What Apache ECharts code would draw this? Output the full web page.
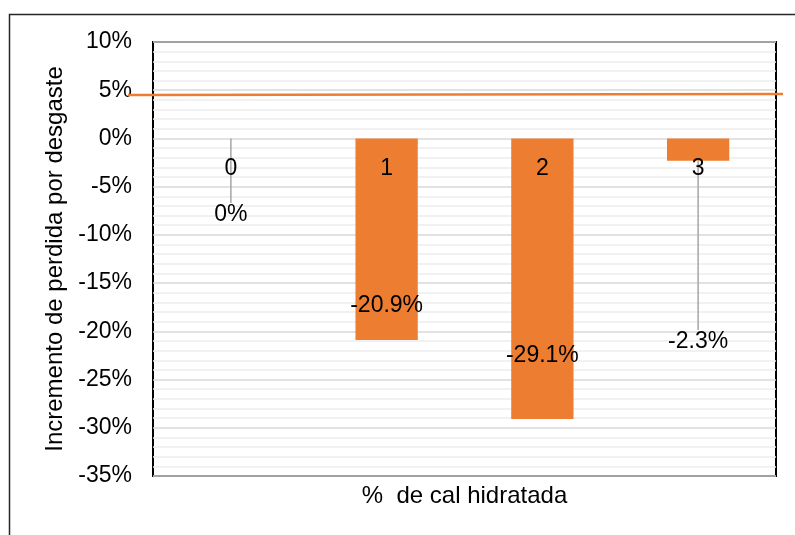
<!DOCTYPE html>
<html>
<head>
<meta charset="utf-8">
<script src="https://cdn.jsdelivr.net/npm/echarts@6/dist/echarts.min.js"></script>
<style>
  html, body { margin: 0; padding: 0; background: #fff; }
  #chart { width: 795px; height: 535px; }
</style>
</head>
<body>
<div id="chart"></div>
<script>
// data
var categories = ['0', '1', '2', '3'];
var values = [0, -20.9, -29.1, -2.3];          // % change
var refLine = [4.5, 4.6];                       // the orange reference line, left -> right
var yTicks = { min: -35, max: 10, step: 5 };

// label nudges (px) so the value labels sit where the original has them
var labelShift = [76, 66, 77, 192];
var showGuide = [true, false, false, true];

var font = 'Liberation Sans, Arial, sans-serif';
var orange = '#ED7D31';

var myChart = echarts.init(document.getElementById('chart'));

var barData = values.map(function (v, i) {
  return {
    value: v,
    labelLine: { show: showGuide[i], lineStyle: { color: '#a6a6a6', width: 1.5 } }
  };
});

var option = {
  animation: false,
  textStyle: { fontFamily: font },
  graphic: [{
    type: 'rect',
    left: 7, top: 12,
    shape: { width: 800, height: 540 },
    style: { fill: 'none', stroke: '#262626', lineWidth: 1.5 },
    silent: true
  }],
  grid: [
    { left: 153, right: 19, top: 42, bottom: 59, show: true, borderColor: '#000', borderWidth: 2 },
    { left: 153, right: 19, top: 42, bottom: 59 },
    { left: 128, right: 12, top: 42, bottom: 59 }
  ],
  xAxis: [{
    type: 'category',
    gridIndex: 0,
    data: categories,
    z: 3,
    axisLine: { show: false, onZero: false },
    axisTick: { show: false },
    axisLabel: { color: '#000', fontSize: 23, margin: 19 }
  }, {
    type: 'category',
    gridIndex: 1,
    data: categories,
    axisLine: { show: false, onZero: false },
    axisTick: { show: false },
    axisLabel: { show: false },
    name: '%  de cal hidratada',
    nameLocation: 'middle',
    nameGap: 8,
    nameTextStyle: { color: '#000', fontSize: 24 }
  }, {
    type: 'value',
    gridIndex: 2,
    min: 0, max: 1,
    show: false
  }],
  yAxis: [{
    type: 'value',
    gridIndex: 0,
    min: yTicks.min, max: yTicks.max, interval: yTicks.step,
    name: 'Incremento de perdida por desgaste',
    nameLocation: 'middle',
    nameGap: 84,
    nameTextStyle: { color: '#000', fontSize: 24 },
    axisLine: { show: false },
    axisTick: { show: false },
    axisLabel: { color: '#000', fontSize: 23, margin: 21, formatter: '{value}%' },
    splitLine: { lineStyle: { color: '#d9d9d9', width: 1.5 } },
    minorTick: { show: false, splitNumber: 5 },
    minorSplitLine: { show: true, lineStyle: { color: '#ededed', width: 1.5 } }
  }, {
    type: 'value',
    gridIndex: 1,
    min: yTicks.min, max: yTicks.max,
    show: false
  }, {
    type: 'value',
    gridIndex: 2,
    min: yTicks.min, max: yTicks.max,
    show: false
  }],
  series: [{
    type: 'bar',
    xAxisIndex: 0, yAxisIndex: 0,
    data: barData,
    barWidth: '40%',
    itemStyle: { color: orange },
    label: {
      show: true,
      position: 'inside',
      color: '#000',
      fontSize: 23,
      formatter: function (p) { return p.value + '%'; }
    },
    labelLayout: function (params) {
      var i = params.dataIndex;
      var out = { dy: labelShift[i] };
      if (i === 0) {
        // the 0 bar has no height: its guide runs slanted from the bar's left corner
        var r = params.rect;
        out.labelLinePoints = [[r.x, r.y], [r.x + r.width / 2, r.y + 57]];
      }
      return out;
    }
  }, {
    type: 'line',
    xAxisIndex: 2, yAxisIndex: 2,
    data: [[0, refLine[0]], [1, refLine[1]]],
    symbol: 'none',
    lineStyle: { color: orange, width: 2.5 },
    z: 4
  }]
};

myChart.setOption(option);

// category labels sit on the 0% line (onZero did not move them), so lift the axis there
var zeroY = myChart.convertToPixel({ yAxisIndex: 0 }, 0);
var bottomY = myChart.convertToPixel({ yAxisIndex: 0 }, yTicks.min);
myChart.setOption({ xAxis: [{ offset: -(bottomY - zeroY) }] });
</script>
</body>
</html>
